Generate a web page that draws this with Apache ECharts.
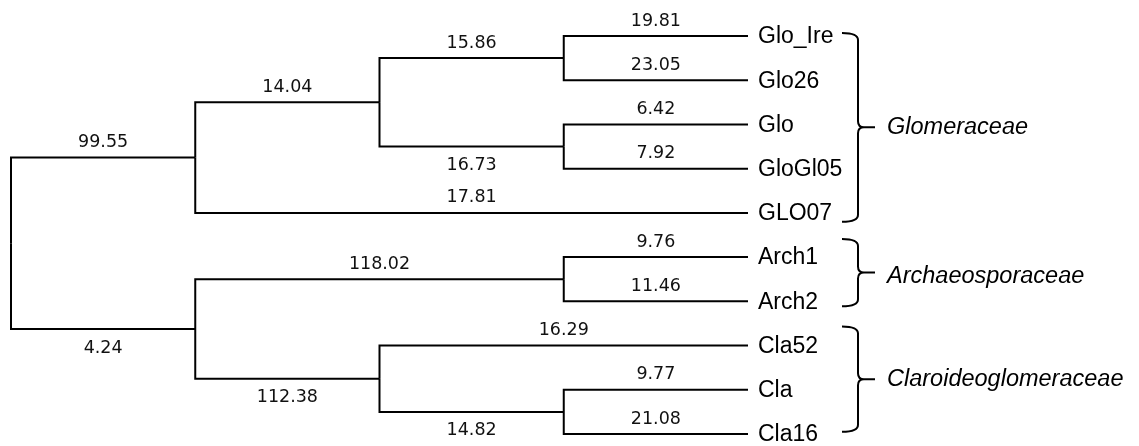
<!DOCTYPE html>
<html>
<head>
<meta charset="utf-8">
<script src="https://cdn.jsdelivr.net/npm/echarts@6/dist/echarts.min.js"></script>
<style>html,body{margin:0;padding:0;background:#fff}#c{width:1139px;height:446px}</style>
</head>
<body>
<div id="c"></div>
<script>
// ---- data ----
const leafNames = ['Glo_Ire','Glo26','Glo','GloGl05','GLO07','Arch1','Arch2','Cla52','Cla','Cla16'];
const edgeParent = ['root','root','A','A','B','B','B1','B1','B2','B2','C','C','Arch','Arch','D','D','Dn','Dn'];
const edgeChild  = ['A','C','B','GLO07','B1','B2','Glo_Ire','Glo26','Glo','GloGl05','Arch','D','Arch1','Arch2','Cla52','Dn','Cla','Cla16'];
const edgeValue  = [99.55,4.24,14.04,17.81,15.86,16.73,19.81,23.05,6.42,7.92,118.02,112.38,9.76,11.46,16.29,14.82,9.77,21.08];
const groupNames = ['Glomeraceae','Archaeosporaceae','Claroideoglomeraceae'];
const groupFirst = ['Glo_Ire','Arch1','Cla52'];
const groupLast  = ['GLO07','Arch2','Cla16'];

// ---- layout (right-aligned cladogram) ----
const children = {};
edgeParent.forEach((p,i)=>{ (children[p]=children[p]||[]).push(edgeChild[i]); });
const height = {};
function setHeight(n){ const cs=children[n]; if(!cs){height[n]=0; return 0;} height[n]=1+Math.max(...cs.map(setHeight)); return height[n]; }
const maxH = setHeight('root');
const xpos = {};
Object.keys(height).forEach(n=>xpos[n]=maxH-height[n]);
const ypos = {};
leafNames.forEach((l,i)=>ypos[l]=i);
function setY(n){ if(ypos[n]!==undefined) return ypos[n]; const cs=children[n]; const ys=cs.map(setY); ypos[n]=(ys[0]+ys[ys.length-1])/2; return ypos[n]; }
setY('root');

const edgeData = edgeParent.map((p,i)=>{
  const c = edgeChild[i];
  const isLeaf = leafNames.indexOf(c)>=0;
  const isFirst = children[p][0]===c;
  return [xpos[p], ypos[p], xpos[c], ypos[c], (isLeaf||isFirst)?1:0];
});
const leafData = leafNames.map(l=>[xpos[l], ypos[l]]);
const groupData = groupNames.map((g,i)=>[maxH, ypos[groupFirst[i]], ypos[groupLast[i]]]);

// style constants
const bracketPadTop = [0.07,0.41,0.43];
const bracketPadBot = [0.2,0.11,-0.05];
const LINE = '#000';
const numFont = 'DejaVu Sans';
const nameFont = 'Liberation Sans';

const chart = echarts.init(document.getElementById('c'), null, {renderer:'canvas'});
chart.setOption({
  animation:false,
  grid:{left:11, right:391, top:36, bottom:12, containLabel:false},
  xAxis:{type:'value', min:0, max:maxH, show:false},
  yAxis:{type:'value', min:0, max:leafNames.length-1, inverse:true, show:false},
  series:[
    {
      type:'custom', coordinateSystem:'cartesian2d', data:edgeData, silent:true,
      encode:{x:[0,2], y:[1,3]},
      renderItem:function(params, api){
        const p = api.coord([api.value(0), api.value(1)]);
        const c = api.coord([api.value(2), api.value(3)]);
        const above = api.value(4)===1;
        return {type:'group', children:[
          {type:'polyline', shape:{points:[[p[0],p[1]],[p[0],c[1]],[c[0],c[1]]]},
           style:{stroke:LINE, lineWidth:2, fill:null, lineJoin:'miter'}},
          {type:'text', style:{text:edgeValue[params.dataIndex].toFixed(2), x:(p[0]+c[0])/2,
            y: above ? c[1]-15 : c[1]+19, align:'center', verticalAlign:'middle',
            fontFamily:numFont, fontSize:17.5, fill:'#111'}}
        ]};
      }
    },
    {
      type:'custom', coordinateSystem:'cartesian2d', data:leafData, silent:true,
      renderItem:function(params, api){
        const c = api.coord([api.value(0), api.value(1)]);
        return {type:'text', style:{text:leafNames[params.dataIndex], x:c[0]+10, y:c[1]+1,
          align:'left', verticalAlign:'middle', fontFamily:nameFont, fontSize:23, fill:'#000'}};
      }
    },
    {
      type:'custom', coordinateSystem:'cartesian2d', data:groupData, silent:true,
      renderItem:function(params, api){
        const i = params.dataIndex;
        const t = api.coord([api.value(0), api.value(1)-bracketPadTop[i]]);
        const b = api.coord([api.value(0), api.value(2)+bracketPadBot[i]]);
        const x = t[0]+110, top=t[1], bot=b[1], mid=(top+bot)/2;
        const path = 'M'+(x-16)+' '+top+' Q'+x+' '+top+' '+x+' '+(top+7)+
          ' L'+x+' '+(mid-6)+' Q'+x+' '+mid+' '+(x+6)+' '+mid+' L'+(x+17)+' '+mid+
          ' M'+(x+6)+' '+mid+' Q'+x+' '+mid+' '+x+' '+(mid+6)+
          ' L'+x+' '+(bot-7)+' Q'+x+' '+bot+' '+(x-16)+' '+bot;
        return {type:'group', children:[
          {type:'path', shape:{pathData:path}, style:{stroke:LINE, lineWidth:2, fill:null}},
          {type:'text', style:{text:groupNames[i], x:x+29, y:mid+(i===1?4:0), align:'left', verticalAlign:'middle',
            fontFamily:nameFont, fontStyle:'italic', fontSize:23.5, fill:'#000'}}
        ]};
      }
    }
  ]
});
</script>
</body>
</html>
